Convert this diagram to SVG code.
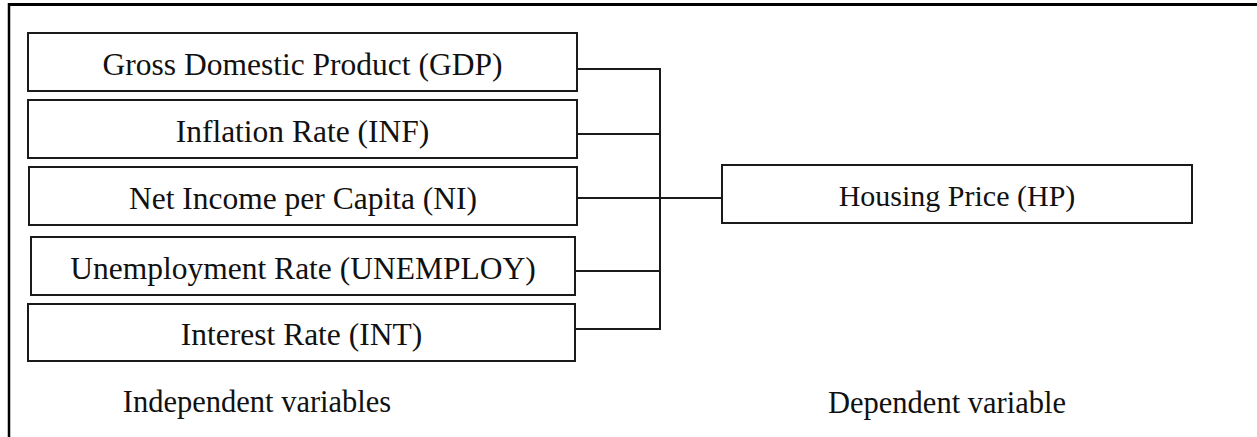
<svg xmlns="http://www.w3.org/2000/svg" width="1257" height="437" viewBox="0 0 1257 437">
  <style>
    .box { fill: #ffffff; stroke: #1a1a1a; stroke-width: 2; }
    .label { font-family: "Liberation Serif", "Times New Roman", serif; font-size: 31.5px; fill: #111111; text-anchor: middle; }
    .caption { font-family: "Liberation Serif", "Times New Roman", serif; font-size: 30.5px; fill: #111111; text-anchor: middle; }
    .wire { fill: none; stroke: #1a1a1a; stroke-width: 2; }
    .frame { fill: none; stroke: #000000; }
  </style>

  <rect x="0" y="0" width="1257" height="437" fill="#ffffff"/>

  <!-- outer frame (top and left edges) -->
  <line class="frame" x1="9" y1="4.5" x2="1257" y2="4.5" stroke-width="3"/>
  <line class="frame" x1="9" y1="3" x2="9" y2="437" stroke-width="2.5"/>

  <!-- connectors -->
  <g id="connectors">
    <line class="wire" x1="577" y1="69" x2="660" y2="69"/>
    <line class="wire" x1="577" y1="134" x2="660" y2="134"/>
    <line class="wire" x1="577" y1="198" x2="660" y2="198"/>
    <line class="wire" x1="575" y1="271" x2="660" y2="271"/>
    <line class="wire" x1="575" y1="329" x2="660" y2="329"/>
    <line class="wire" x1="660" y1="68" x2="660" y2="330"/>
    <line class="wire" x1="660" y1="198" x2="722" y2="198"/>
  </g>

  <g id="node-gdp">
    <rect class="box" x="28" y="33" width="549" height="58"/>
    <text class="label" x="302.5" y="75">Gross Domestic Product (GDP)</text>
  </g>
  <g id="node-inf">
    <rect class="box" x="28" y="100" width="549" height="58"/>
    <text class="label" x="302.5" y="142">Inflation Rate (INF)</text>
  </g>
  <g id="node-ni">
    <rect class="box" x="29" y="167" width="548" height="58"/>
    <text class="label" x="303" y="209">Net Income per Capita (NI)</text>
  </g>
  <g id="node-unemploy">
    <rect class="box" x="31" y="237" width="544" height="58"/>
    <text class="label" x="303" y="279">Unemployment Rate (UNEMPLOY)</text>
  </g>
  <g id="node-int">
    <rect class="box" x="28" y="304" width="547" height="57"/>
    <text class="label" x="301.5" y="345">Interest Rate (INT)</text>
  </g>
  <g id="node-hp">
    <rect class="box" x="722" y="165" width="470" height="58"/>
    <text class="caption" x="957" y="206" style="font-size:30px">Housing Price (HP)</text>
  </g>

  <g id="captions">
    <text class="caption" x="257" y="412">Independent variables</text>
    <text class="caption" x="947" y="413">Dependent variable</text>
  </g>
</svg>
